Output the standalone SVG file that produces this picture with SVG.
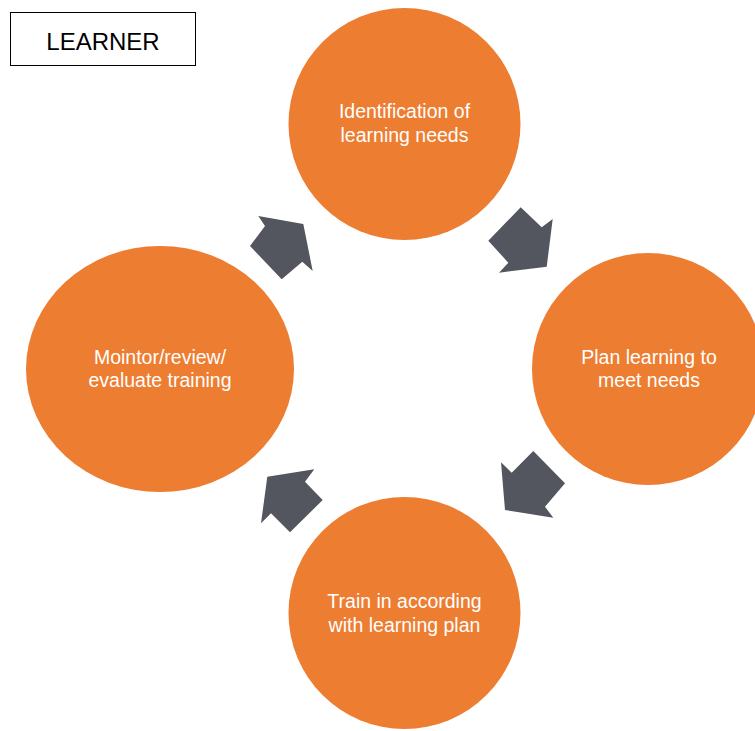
<svg xmlns="http://www.w3.org/2000/svg" width="755" height="731" viewBox="0 0 755 731">
<style>
.node{fill:#ED7D31}
.lbl{font-family:"Liberation Sans",Arial,sans-serif;font-size:19.5px;fill:#FFFFFF;text-anchor:middle}
.arr{fill:#53565E}
.title{font-family:"Liberation Sans",Arial,sans-serif;font-size:24px;fill:#000000;text-anchor:middle}
</style>
<rect width="755" height="731" fill="#FFFFFF"/>
<g id="learner">
<rect x="10.5" y="12.5" width="185" height="53" fill="#FFFFFF" stroke="#000000" stroke-width="1"/>
<text class="title" x="103" y="50">LEARNER</text>
</g>
<g id="connectors">
<polygon class="arr" points="258.3,216 303.3,224 312.7,271 302.3,261.7 281.7,279.3 250,246 265,226"/>
<polygon class="arr" points="488.3,240.7 520.7,207.3 541.7,227.3 552.7,219 546.7,266.7 499,272.7 508.3,262.7"/>
<polygon class="arr" points="533.3,451 565,483.3 545,506.7 553.3,517.7 505,510 501,462.3 511.7,472.7"/>
<polygon class="arr" points="314.3,469.3 305,481.7 322.7,500 290,532.3 271,513.3 261,523.3 267.3,476.7"/>
</g>
<g id="identification">
<circle class="node" cx="404.5" cy="124" r="116"/>
<text class="lbl" x="404.5" y="118">Identification of</text>
<text class="lbl" x="404.5" y="141.7">learning needs</text>
</g>
<g id="plan">
<circle class="node" cx="648" cy="369" r="116"/>
<text class="lbl" x="649" y="364.3">Plan learning to</text>
<text class="lbl" x="649" y="386.7">meet needs</text>
</g>
<g id="train">
<circle class="node" cx="404.5" cy="613" r="116"/>
<text class="lbl" x="404.5" y="608">Train in according</text>
<text class="lbl" x="404.5" y="631.7">with learning plan</text>
</g>
<g id="monitor">
<ellipse class="node" cx="160" cy="369" rx="134" ry="123"/>
<text class="lbl" x="160" y="364">Mointor/review/</text>
<text class="lbl" x="160" y="386.7">evaluate training</text>
</g>
</svg>
